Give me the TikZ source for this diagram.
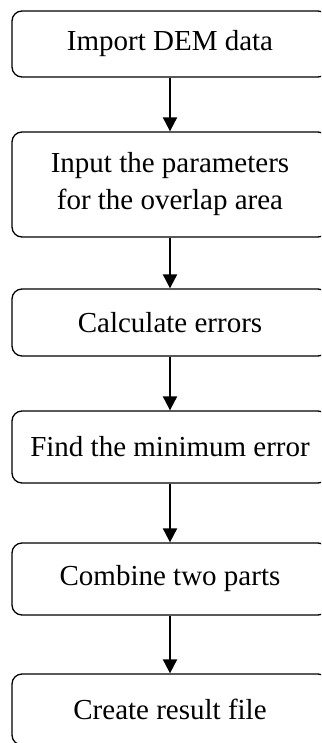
\documentclass[tikz,border=0pt]{standalone}
\usepackage{fontspec}
\setmainfont{Liberation Serif}
\usetikzlibrary{arrows.meta}
\begin{document}
\begin{tikzpicture}[x=1pt,y=-1pt,
  stepbox/.style={draw, line width=1.3pt, rounded corners=10pt,
    minimum width=316pt, inner sep=0pt, align=center,
    font=\fontsize{29}{37}\selectfont},
  flow/.style={line width=2pt, -{Triangle[length=14pt,width=14pt]}}]
\useasboundingbox (0,0) rectangle (321,743);
\clip (0,0) rectangle (321,743);
% process steps
\node[stepbox, minimum height=66pt]  (b1) at (170,44)    {Import DEM data};
\node[stepbox, minimum height=105pt] (b2) at (170,184.5) {Input the parameters\\for the overlap area};
\node[stepbox, minimum height=67pt]  (b3) at (170,322.5) {Calculate errors};
\node[stepbox, minimum height=72pt]  (b4) at (170,447)   {Find the minimum error};
\node[stepbox, minimum height=72pt]  (b5) at (170,579)   {Combine two parts};
\node[stepbox, minimum height=71pt]  (b6) at (170,709.5) {Create result file};
% connectors
\draw[flow] (b1) -- (b2);
\draw[flow] (b2) -- (b3);
\draw[flow] (b3) -- (b4);
\draw[flow] (b4) -- (b5);
\draw[flow] (b5) -- (b6);
\end{tikzpicture}
\end{document}
